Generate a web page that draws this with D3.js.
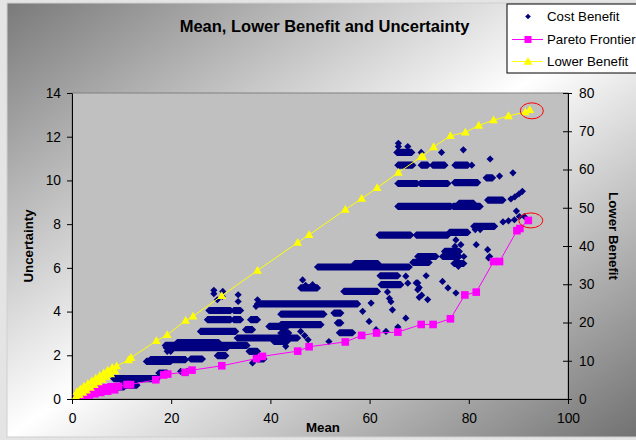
<!DOCTYPE html>
<html>
<head>
<meta charset="utf-8">
<script src="https://cdn.jsdelivr.net/npm/d3@7"></script>
<style>
  html, body { margin: 0; padding: 0; background: #e4e4e4; overflow: hidden; }
  svg { display: block; }
  text { font-family: "Liberation Sans", Arial, sans-serif; fill: #000; }
</style>
</head>
<body>
<svg id="chart" width="636" height="440"></svg>
<script>
// ---- Axis ticks ----
const meanTicks = [0, 20, 40, 60, 80, 100];
const uncertaintyTicks = [0, 2, 4, 6, 8, 10, 12, 14];
const lowerBenefitTicks = [0, 10, 20, 30, 40, 50, 60, 70, 80];

// ---- Lower Benefit series (right axis) ----
const lowerMean  = [0.8, 1.0, 1.5, 1.7, 2.2, 2.4, 2.9, 3.2, 3.7, 4.0, 4.5, 4.8, 5.3, 5.6, 6.1, 6.4, 6.9, 7.2, 7.8, 8.1, 8.7, 9.0,
                    11.4, 11.9, 17.0, 19.2, 22.9, 24.4, 30.2, 37.4, 45.5, 47.8, 55.1, 58.4, 61.5, 65.8, 70.4, 70.7,
                    72.9, 76.3, 79.3, 82.0, 85.0, 88.0, 91.4, 92.3];
const lowerValue = [0.6, 1.9, 1.1, 2.6, 1.7, 3.3, 2.3, 4.0, 3.0, 4.7, 3.7, 5.4, 4.4, 6.1, 5.1, 6.8, 5.8, 7.5, 6.5, 8.2, 7.3, 8.6,
                    10.2, 10.8, 15.2, 16.8, 20.5, 21.6, 27.0, 33.6, 40.9, 42.9, 49.5, 52.4, 55.2, 59.2, 63.3, 63.4,
                    65.9, 68.8, 69.7, 71.5, 72.9, 74.0, 75.0, 75.6];

// ---- Pareto Frontier series (left axis) ----
const paretoMean = [1.0, 1.3, 1.7, 2.1, 2.5, 3.0, 3.5, 4.0, 4.6, 5.2, 5.8, 6.5, 7.2, 7.9, 8.6, 9.4,
                    11.1, 11.8, 16.9, 18.5, 19.3, 22.8, 24.2, 30.2, 37.2, 38.4, 45.5, 47.8, 55.1, 58.4, 61.4,
                    65.7, 70.4, 72.8, 76.3, 79.2, 81.5, 85.0, 86.2, 89.7, 90.3, 92.0];
const paretoUnc  = [0.02, 0.20, 0.06, 0.28, 0.12, 0.34, 0.18, 0.40, 0.24, 0.46, 0.30, 0.52, 0.36, 0.56, 0.42, 0.58,
                    0.66, 0.66, 0.88, 1.10, 1.14, 1.22, 1.32, 1.52, 1.85, 1.95, 2.19, 2.39, 2.61, 2.91, 3.02,
                    3.06, 3.41, 3.41, 3.67, 4.76, 4.89, 6.29, 6.29, 7.70, 7.80, 8.17];

// ---- Cost Benefit: dense runs of points at one uncertainty level ----
const runFrom = [65.5, 65.7, 70.4, 72.7, 77.2, 65.7, 70.2, 77.1, 83.5, 65.7, 76.8, 78.0, 83.8,
                 61.9, 69.4, 76.1, 81.0, 75.1, 74.7, 77.0, 69.7, 68.7, 49.5, 57.0,
                 62.1, 62.3, 46.1, 54.8, 37.4, 42.1, 52.8, 42.1, 53.5, 53.9, 42.1,
                 27.6, 32.6, 27.3, 32.6, 36.0, 39.7, 25.9, 35.0, 33.3, 40.7, 18.8, 21.2, 19.0,
                 35.7, 37.4, 15.8, 15.0, 23.9, 29.3, 8.4, 17.5, 9.8, 8.0];
const runTo   = [68.5, 68.7, 71.7, 75.2, 79.8, 69.6, 75.8, 81.8, 84.8, 76.4, 82.3, 81.0, 86.9,
                 68.3, 75.8, 79.8, 85.2, 78.1, 78.1, 79.0, 73.4, 72.0, 68.0, 61.7,
                 65.7, 66.3, 49.5, 61.6, 57.6, 50.8, 54.2, 50.2, 54.2, 56.6, 43.7,
                 32.0, 34.0, 32.0, 34.0, 37.4, 43.4, 33.0, 36.4, 45.5, 43.4, 35.3, 29.6, 31.3,
                 37.4, 38.7, 22.9, 19.9, 26.3, 31.0, 17.2, 19.2, 13.1, 10.5];
const runUnc  = [11.28, 10.70, 10.70, 10.70, 10.70, 9.86, 9.86, 9.90, 10.12, 8.81, 8.81, 8.95, 9.10,
                 7.50, 7.50, 7.62, 7.90, 6.75, 6.52, 6.20, 6.52, 6.25, 6.04, 6.20,
                 5.64, 5.23, 5.08, 4.92, 4.35, 3.88, 3.93, 3.40, 3.48, 3.03, 3.02,
                 4.05, 4.05, 3.63, 3.63, 3.63, 3.32, 3.09, 3.17, 2.79, 2.63, 2.45, 2.58, 2.35,
                 2.18, 1.83, 1.80, 1.72, 1.83, 1.98, 0.93, 1.19, 0.63, 0.55];

// ---- Cost Benefit: isolated points ----
const pointMean = [65.8, 65.8, 67.7, 70.4, 74.5, 78.9, 80.6, 84.3, 86.2, 88.9,
                   88.5, 89.3, 90.1, 90.8, 86.9, 88.0, 89.2, 89.6, 90.2, 91.2,
                   81.3, 82.3, 77.4, 78.4, 77.2, 81.5, 79.0, 77.9, 83.8, 84.0, 84.2,
                   71.4, 74.7, 75.8, 77.4, 69.7, 69.7, 70.5, 71.7,
                   67.3, 67.7, 69.4, 46.5, 47.1, 48.5,
                   63.6, 64.0, 64.3, 70.0, 70.0, 60.3,
                   58.6, 64.6, 67.3, 59.9, 46.1, 46.9, 47.6, 51.8,
                   61.3, 63.3, 65.7, 43.1,
                   28.6, 28.6, 30.3, 29.3, 30.4, 33.5, 33.5, 37.4,
                   37.1, 21.9, 23.2, 36.4, 19.2, 19.9];
const pointUnc  = [11.70, 11.55, 11.55, 11.28, 11.28, 11.40, 10.70, 10.98, 10.20, 10.35,
                   9.15, 9.25, 9.38, 9.50, 8.10, 8.15, 8.20, 8.60, 8.35, 8.35,
                   7.75, 7.75, 7.28, 7.06, 6.98, 7.06, 6.52, 6.07, 6.83, 6.45, 6.52,
                   5.64, 5.38, 5.08, 4.85, 5.31, 5.00, 4.75, 4.55,
                   5.62, 5.30, 5.31, 5.45, 5.20, 5.23,
                   4.90, 4.60, 4.45, 5.10, 4.65, 4.39,
                   4.01, 4.08, 3.70, 3.55, 3.09, 2.90, 2.71, 2.63,
                   3.17, 3.09, 3.29, 2.41,
                   4.97, 4.82, 4.69, 4.54, 4.92, 4.77, 4.46, 4.54,
                   4.24, 1.26, 1.26, 1.65, 2.18, 2.18];

const legendItems = ["Cost Benefit", "Pareto Frontier", "Lower Benefit"];

// ---- Layout ----
const W = 636, H = 440;
const plot = { left: 72, right: 568, top: 93, bottom: 399 };
const navy = "#000080", magenta = "#ff00ff", yellow = "#ffff00";

const x  = d3.scaleLinear().domain([0, 100]).range([plot.left, plot.right]);
const yL = d3.scaleLinear().domain([0, 14]).range([plot.bottom, plot.top]);
const yR = d3.scaleLinear().domain([0, 80]).range([plot.bottom, plot.top]);

const svg = d3.select("#chart");
const defs = svg.append("defs");

// Chart area with a diagonal grey-white-grey fill
const grad = defs.append("linearGradient").attr("id", "chartFill")
  .attr("x1", 0).attr("y1", 0).attr("x2", 1).attr("y2", 1);
grad.append("stop").attr("offset", 0).attr("stop-color", "#7a7a7a");
grad.append("stop").attr("offset", 0.5).attr("stop-color", "#ffffff");
grad.append("stop").attr("offset", 1).attr("stop-color", "#707070");

svg.append("rect").attr("x", 7).attr("y", 3).attr("width", W).attr("height", H - 6)
  .attr("fill", "url(#chartFill)").attr("stroke", "#cfcfcf");

// Plot area
svg.append("rect")
  .attr("x", plot.left).attr("y", plot.top)
  .attr("width", plot.right - plot.left).attr("height", plot.bottom - plot.top)
  .attr("fill", "#c0c0c0").attr("stroke", "#808080");

// Title
svg.append("text").attr("x", 324.5).attr("y", 32).attr("text-anchor", "middle")
  .style("font-size", "16.5px").style("font-weight", "bold")
  .text("Mean, Lower Benefit and Uncertainty");

// ---- Axes ----
const tickFont = "13.8px";
const gL = svg.append("g").attr("transform", `translate(${plot.left},0)`)
  .call(d3.axisLeft(yL).tickValues(uncertaintyTicks).tickSize(5).tickSizeOuter(0).tickPadding(6));
const gB = svg.append("g").attr("transform", `translate(0,${plot.bottom})`)
  .call(d3.axisBottom(x).tickValues(meanTicks).tickSize(5).tickSizeOuter(0).tickPadding(9));
const gR = svg.append("g").attr("transform", `translate(${plot.right},0)`)
  .call(d3.axisRight(yR).tickValues(lowerBenefitTicks).tickSize(4).tickSizeOuter(0).tickPadding(7));
gR.selectAll(".tick line").attr("x1", -5);

[gL, gB, gR].forEach(g => {
  g.select(".domain").attr("stroke", "#000");
  g.selectAll(".tick line").attr("stroke", "#000");
  g.selectAll("text").style("font-size", tickFont)
    .style("font-family", "'Liberation Sans', Arial, sans-serif").attr("fill", "#000");
});

// Axis titles
svg.append("text").attr("x", 323).attr("y", 432).attr("text-anchor", "middle")
  .style("font-size", "13.3px").style("font-weight", "bold").text("Mean");
svg.append("text").attr("transform", `translate(33,${(plot.top + plot.bottom) / 2}) rotate(-90)`)
  .attr("text-anchor", "middle").style("font-size", "13.3px").style("font-weight", "bold").text("Uncertainty");
svg.append("text").attr("transform", `translate(609,236) rotate(90)`)
  .attr("text-anchor", "middle").style("font-size", "13.3px").style("font-weight", "bold").text("Lower Benefit");

// ---- Marks ----
const clip = defs.append("clipPath").attr("id", "plotClip").append("rect")
  .attr("x", plot.left - 6).attr("y", plot.top - 6)
  .attr("width", plot.right - plot.left + 12).attr("height", plot.bottom - plot.top + 6);
const marks = svg.append("g").attr("clip-path", "url(#plotClip)");

const diamond = r => `M0,${-r}L${r},0L0,${r}L${-r},0Z`;
const triangle = "M0,-4.6L4.4,3.2L-4.4,3.2Z";
const dr = 3.6;

// Cost Benefit runs drawn as a stretched diamond (a row of overlapping markers)
const runs = runFrom.map((f, i) => ({ from: f, to: runTo[i], u: runUnc[i] }));
marks.append("g").selectAll("path").data(runs).join("path")
  .attr("d", d => {
    const x0 = x(d.from), x1 = x(d.to), y = yL(d.u);
    return `M${x0 - dr},${y}L${x0},${y - dr}L${x1},${y - dr}L${x1 + dr},${y}L${x1},${y + dr}L${x0},${y + dr}Z`;
  })
  .attr("fill", navy);

const pts = pointMean.map((m, i) => ({ m, u: pointUnc[i] }));
marks.append("g").selectAll("path").data(pts).join("path")
  .attr("transform", d => `translate(${x(d.m)},${yL(d.u)})`)
  .attr("d", diamond(dr)).attr("fill", navy);

// Pareto Frontier
const pareto = paretoMean.map((m, i) => ({ m, u: paretoUnc[i] }));
marks.append("path").datum(pareto)
  .attr("d", d3.line().x(d => x(d.m)).y(d => yL(d.u)))
  .attr("fill", "none").attr("stroke", magenta).attr("stroke-width", 1);
marks.append("g").selectAll("rect").data(pareto).join("rect")
  .attr("x", d => x(d.m) - 3.8).attr("y", d => yL(d.u) - 3.8)
  .attr("width", 7.6).attr("height", 7.6).attr("fill", magenta);

// Lower Benefit
const lower = lowerMean.map((m, i) => ({ m, v: lowerValue[i] }));
marks.append("path").datum(lower)
  .attr("d", d3.line().x(d => x(d.m)).y(d => yR(d.v)))
  .attr("fill", "none").attr("stroke", yellow).attr("stroke-width", 1);
marks.append("g").selectAll("path").data(lower).join("path")
  .attr("transform", d => `translate(${x(d.m)},${yR(d.v)})`)
  .attr("d", triangle).attr("fill", yellow);

// Highlight rings round the final point of each line
const lastLower = lower[lower.length - 1], lastPareto = pareto[pareto.length - 1];
svg.append("ellipse").attr("cx", x(lastLower.m) + 2).attr("cy", yR(lastLower.v) + 1)
  .attr("rx", 11.5).attr("ry", 8).attr("fill", "none").attr("stroke", "#ff0000").attr("stroke-width", 1);
svg.append("ellipse").attr("cx", x(lastPareto.m) + 2.5).attr("cy", yL(lastPareto.u))
  .attr("rx", 12).attr("ry", 7.5).attr("fill", "none").attr("stroke", "#ff0000").attr("stroke-width", 1);

// ---- Legend ----
const lg = svg.append("g");
lg.append("rect").attr("x", 507).attr("y", 4).attr("width", 140).attr("height", 69)
  .attr("fill", "#ffffff").attr("stroke", "#000");
const rowY = [16.5, 39.5, 61.5];
legendItems.forEach((name, i) => {
  const y = rowY[i];
  if (i === 0) {
    lg.append("path").attr("transform", `translate(528,${y})`).attr("d", diamond(2.8)).attr("fill", navy);
  } else if (i === 1) {
    lg.append("line").attr("x1", 512).attr("x2", 543).attr("y1", y).attr("y2", y).attr("stroke", magenta);
    lg.append("rect").attr("x", 524.5).attr("y", y - 3.5).attr("width", 7).attr("height", 7).attr("fill", magenta);
  } else {
    lg.append("line").attr("x1", 512).attr("x2", 543).attr("y1", y).attr("y2", y).attr("stroke", yellow);
    lg.append("path").attr("transform", `translate(528,${y})`).attr("d", triangle).attr("fill", yellow);
  }
  lg.append("text").attr("x", 547).attr("y", y).attr("dy", "0.35em")
    .style("font-size", "13.3px").text(name);
});
</script>
</body>
</html>
